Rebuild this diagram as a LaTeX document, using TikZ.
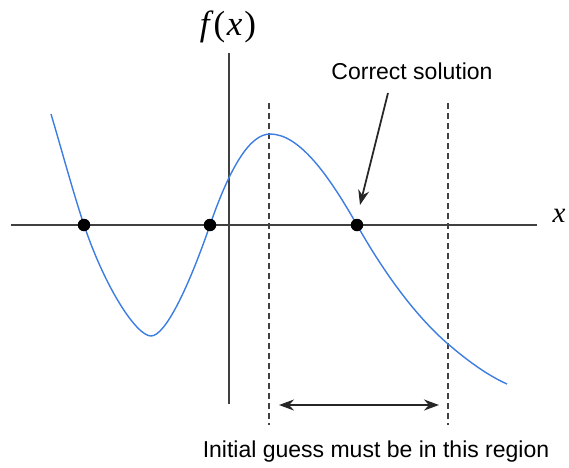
\documentclass[tikz,border=0pt]{standalone}
\usepackage{fontspec}
\setmainfont{Liberation Sans}
\newfontfamily\seriffont{Liberation Serif}
\usetikzlibrary{arrows.meta}
\begin{document}
\begin{tikzpicture}[x=1pt,y=-1pt,
  axis/.style={draw=black!75, line width=1.4pt},
  guide/.style={draw=black!75, line width=1.2pt, dash pattern=on 6pt off 4pt},
  curve/.style={draw={rgb,255:red,60;green,125;blue,225}, line width=1.4pt},
  root/.style={circle, fill=black, inner sep=0pt, minimum size=12.5pt},
  lbl/.style={font=\fontsize{23}{27}\selectfont, inner sep=0pt},
  pointer/.style={-{Stealth[length=15pt,width=11pt]}, line width=1.8pt, draw=black!85},
  span/.style={{Stealth[length=15pt,width=11pt]}-{Stealth[length=15pt,width=11pt]}, line width=1.8pt, draw=black!85},
]
\useasboundingbox (0,0) rectangle (569,467);
% axes
\coordinate (xl) at (11,225);
\coordinate (xr) at (537,225);
\coordinate (yb) at (229,404);
\coordinate (yt) at (229,53);
\draw[axis] (xl) -- (xr);
\draw[axis] (yb) -- (yt);
% dashed guides
\coordinate (g1t) at (269,103);
\coordinate (g1b) at (269,425);
\coordinate (g2t) at (448,103);
\coordinate (g2b) at (448,425);
\draw[guide] (g1t) -- (g1b);
\draw[guide] (g2t) -- (g2b);
% curve
\draw[curve] (51,114)
  .. controls (62,151) and (73,192) .. (84,225)
  .. controls (106,290) and (137,336) .. (151,336)
  .. controls (165,336) and (188,289) .. (210,225)
  .. controls (230,167) and (250,134) .. (270,134)
  .. controls (299,134) and (328,174) .. (357,225)
  .. controls (387,278) and (418,318) .. (448,344)
  .. controls (468,361) and (487,375) .. (507,384);
% roots
\node[root] (r1) at (84,225) {};
\node[root] (r2) at (210,225) {};
\node[root] (r3) at (357,225) {};
% labels
\node[inner sep=0pt, font=\seriffont\fontsize{35}{40}\selectfont] (fx) at (228,27) {\itshape f\kern4pt\upshape(\kern1.5pt\itshape x\kern2pt\upshape)};
\node[inner sep=0pt, font=\seriffont\fontsize{29}{33}\selectfont\itshape] (xlab) at (559,216) {x};
\node[lbl] (cs) at (412,71) {Correct solution};
\node[lbl] (ig) at (376,452) {Initial guess must be in this region};
% arrows
\coordinate (pa) at (388,93);
\coordinate (pb) at (360,205);
\draw[pointer] (pa) -- (pb);
\coordinate (sa) at (279,405);
\coordinate (sb) at (439,405);
\draw[span] (sa) -- (sb);
\end{tikzpicture}
\end{document}
